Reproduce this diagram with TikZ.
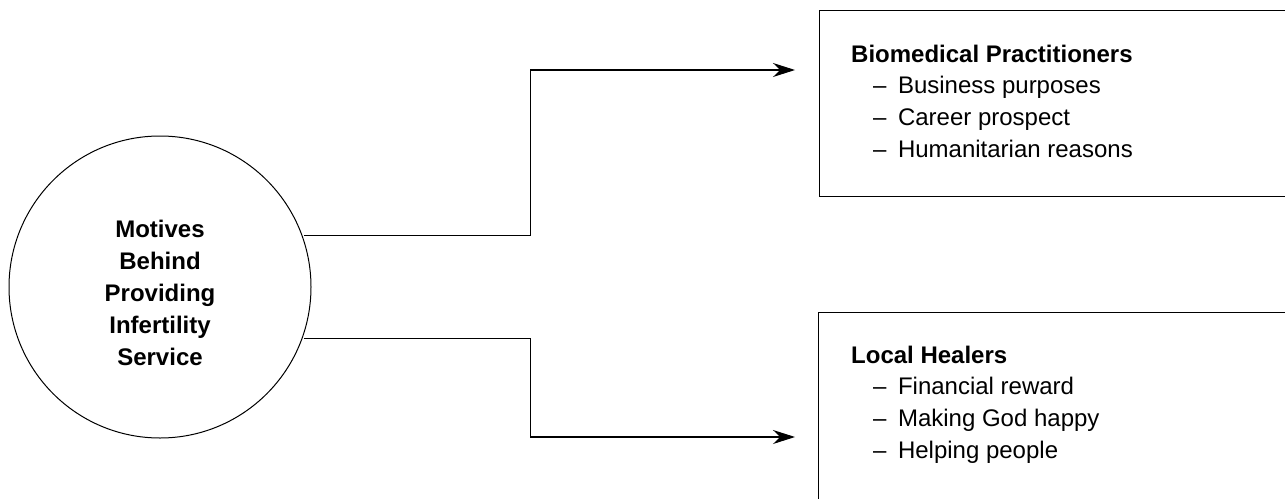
\documentclass[tikz,border=0pt]{standalone}
\usepackage{fontspec}
\setmainfont{Liberation Sans}
\usepackage{tikz}
\usetikzlibrary{arrows.meta,positioning}

\newcommand{\reason}[1]{\\\hspace*{22pt}--\hspace{11.5pt}#1}

\tikzset{
	hub/.style = {draw, circle, line width = 1pt, minimum size = 302pt, inner sep = 0pt},
	hubtext/.style = {align = center, inner sep = 0pt, font = \fontsize{24}{32}\selectfont\bfseries},
	reasonbox/.style = {draw, rectangle, line width = 1.1pt, anchor = north west, inner sep = 0pt},
	reasontext/.style = {align = left, inner sep = 0pt, anchor = north west, font = \fontsize{24}{31.7}\selectfont},
	link/.style = {line width = 1.1pt, -{Stealth[length = 22pt, width = 14pt]}}
}

\begin{document}
\begin{tikzpicture}[x = 1pt, y = -1pt]
				\useasboundingbox (0,0) rectangle (1285,498);
				\clip (0,0) rectangle (1285,498);
				% the motive circle
				\node [hub] (motive) at (160,287) {};
				\node [hubtext, yshift = -6pt] (motivetext) at (motive.center) {Motives\\Behind\\Providing\\Infertility\\Service};
				% the two groups
				\node [reasonbox, minimum width = 480pt, minimum height = 186pt] (bio) at (819,10) {};
				\node [reasonbox, minimum width = 480pt, minimum height = 220pt] (healer) at (818,312) {};
				\node [reasontext] (biotext) at ([xshift = 32pt, yshift = -34.5pt]bio.north west) {\textbf{Biomedical Practitioners}\reason{Business purposes}\reason{Career prospect}\reason{Humanitarian reasons}};
				\node [reasontext] (healertext) at ([xshift = 33pt, yshift = -33.5pt]healer.north west) {\textbf{Local Healers}\reason{Financial reward}\reason{Making God happy}\reason{Helping people}};
				% connectors
				\coordinate (biotip) at (795,70);
				\coordinate (healertip) at (795,437);
				\draw [link, shorten < = 2pt] (motive.20) -- ++(228,0) |- (biotip);
				\draw [link, shorten < = 2pt] (motive.-20) -- ++(228,0) |- (healertip);
		\end{tikzpicture}
\end{document}
